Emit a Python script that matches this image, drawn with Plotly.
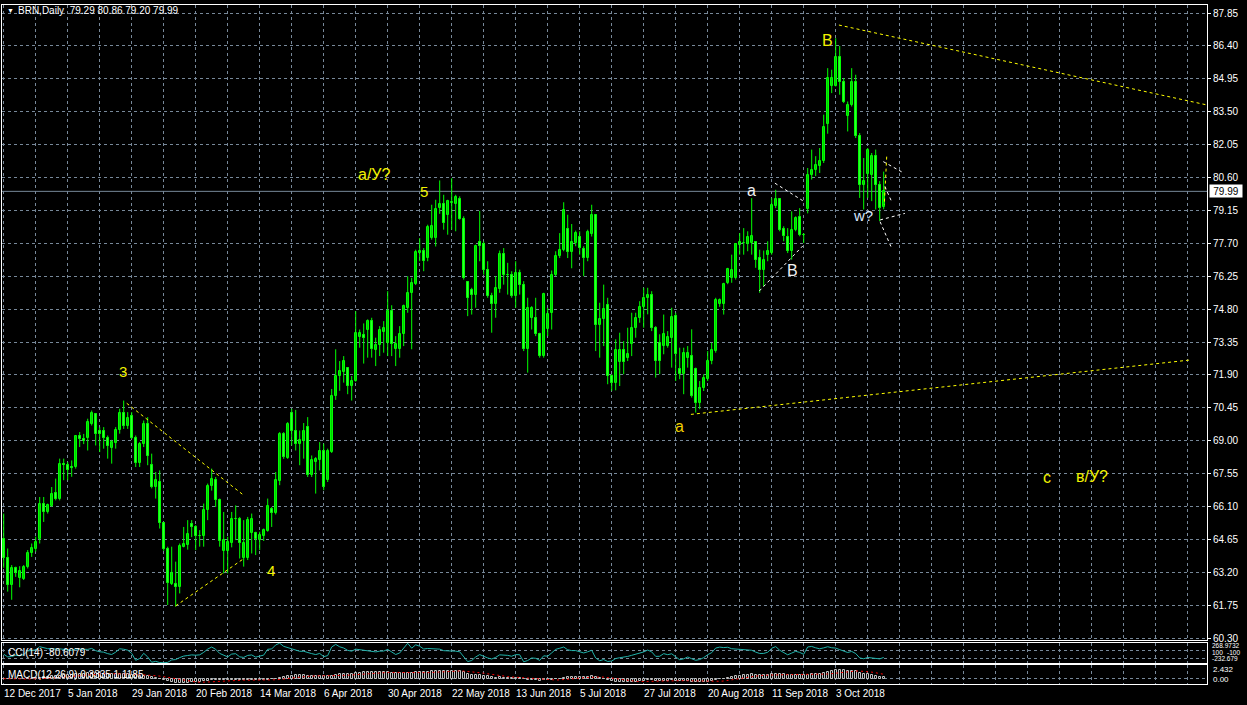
import numpy as np
import pandas as pd
import plotly.graph_objects as go

# ---------------- data (BRN, Daily) ----------------
opens = [64.69, 63.81, 62.64, 63.37, 62.93, 62.90, 63.42, 64.03, 64.21, 64.69,
         66.23, 65.86, 66.11, 66.71, 66.45, 67.99, 67.95, 67.84, 67.84, 69.19,
         69.08, 69.12, 69.75, 70.19, 69.41, 69.41, 69.13, 68.68, 68.90, 69.48,
         70.23, 69.64, 70.11, 69.13, 68.02, 68.87, 69.72, 67.95, 66.96, 67.20,
         65.38, 64.21, 62.69, 62.69, 62.54, 64.33, 64.40, 65.35, 65.20, 64.82,
         64.80, 65.94, 67.00, 67.28, 66.38, 64.15, 64.15, 64.50, 65.53, 65.53,
         63.81, 63.84, 64.94, 64.94, 64.64, 64.80, 65.03, 65.97, 65.82, 67.22,
         69.30, 68.24, 70.23, 69.41, 68.87, 68.98, 69.60, 67.48, 68.06, 68.13,
         68.53, 67.26, 68.50, 70.97, 71.85, 72.04, 72.19, 71.41, 71.63, 73.58,
         73.65, 73.86, 74.27, 73.00, 73.20, 73.80, 73.32, 74.71, 73.03, 73.03,
         73.69, 74.86, 75.49, 75.91, 77.27, 77.38, 77.05, 77.93, 77.93, 79.25,
         79.44, 78.96, 79.47, 79.43, 79.66, 78.78, 75.99, 75.66, 75.44, 77.74,
         77.68, 76.54, 75.37, 75.03, 75.67, 77.25, 76.32, 76.32, 75.37, 76.40,
         75.88, 73.03, 74.42, 74.42, 73.72, 72.73, 73.94, 74.64, 76.32, 77.16,
         77.42, 78.35, 77.32, 77.71, 78.00, 77.46, 77.05, 78.11, 78.93, 74.09,
         74.35, 75.00, 71.85, 71.56, 72.48, 72.98, 72.66, 73.25, 73.98, 74.42,
         74.89, 75.30, 75.44, 73.98, 73.32, 73.17, 73.17, 73.54, 74.49, 72.15,
         71.93, 72.66, 72.73, 72.15, 70.68, 71.34, 71.71, 72.51, 72.95, 75.03,
         75.03, 75.96, 76.18, 76.18, 77.64, 77.71, 77.67, 77.71, 77.76, 77.05,
         76.54, 77.20, 77.27, 79.33, 79.66, 78.34, 77.96, 77.35, 78.30, 78.84,
         78.08, 79.22, 80.69, 80.92, 81.10, 81.32, 82.97, 84.64, 84.64, 85.93,
         84.79, 83.32, 83.81, 84.79, 82.44, 80.29, 80.77, 80.73, 81.57, 80.29,
         79.29]
highs = [65.79, 64.25, 63.52, 63.45, 63.47, 63.52, 64.18, 64.47, 64.77, 66.52,
         66.52, 66.23, 66.96, 67.33, 68.21, 68.21, 68.06, 68.13, 69.23, 69.38,
         69.30, 69.97, 70.33, 70.19, 69.60, 69.60, 69.23, 69.04, 69.60, 70.41,
         70.77, 70.26, 70.26, 69.23, 68.94, 69.89, 70.04, 68.43, 67.62, 67.69,
         65.42, 64.33, 64.33, 63.67, 64.47, 65.20, 65.50, 65.50, 65.28, 65.06,
         66.23, 67.11, 67.77, 67.40, 66.45, 65.86, 64.77, 65.86, 66.15, 65.64,
         65.50, 65.64, 65.79, 64.99, 64.99, 65.13, 66.45, 66.08, 67.62, 69.38,
         69.38, 69.82, 70.41, 70.36, 69.45, 69.78, 70.04, 68.35, 68.28, 68.94,
         68.87, 68.65, 71.28, 73.03, 72.51, 72.73, 72.22, 71.85, 74.71, 73.90,
         74.17, 74.35, 74.42, 73.54, 74.05, 74.27, 75.59, 74.97, 73.61, 74.05,
         75.00, 76.25, 76.18, 77.42, 77.93, 77.49, 78.52, 79.40, 79.62, 80.47,
         79.84, 79.62, 80.57, 79.84, 79.77, 78.89, 76.03, 75.74, 77.64, 79.13,
         77.78, 76.91, 75.52, 76.25, 77.38, 77.49, 76.84, 76.47, 76.91, 76.54,
         76.03, 75.30, 74.93, 75.30, 73.76, 75.52, 74.86, 76.50, 77.35, 78.15,
         79.51, 78.96, 78.55, 78.26, 78.23, 77.57, 78.30, 79.40, 78.96, 75.08,
         75.88, 75.30, 71.93, 73.47, 73.76, 73.39, 73.98, 74.64, 74.64, 75.15,
         75.74, 75.74, 75.59, 74.05, 73.69, 74.56, 73.83, 74.86, 74.64, 73.10,
         73.10, 73.17, 73.91, 72.22, 71.63, 71.93, 72.95, 73.32, 75.30, 75.27,
         75.96, 76.62, 77.20, 77.71, 78.15, 78.37, 78.23, 79.69, 77.79, 77.42,
         77.38, 77.79, 79.69, 80.06, 79.69, 78.45, 78.37, 79.11, 78.89, 79.25,
         78.15, 81.02, 81.83, 81.54, 81.90, 83.37, 85.42, 85.35, 86.74, 86.40,
         84.98, 83.95, 85.42, 85.13, 82.56, 81.46, 81.90, 81.68, 81.83, 80.44,
         80.86]
lows = [63.40, 62.35, 61.99, 63.00, 62.54, 62.86, 63.37, 63.88, 64.11, 64.47,
        65.42, 65.79, 66.08, 66.37, 66.37, 67.26, 67.26, 67.41, 67.77, 68.72,
        68.85, 68.57, 69.67, 68.79, 68.50, 68.65, 68.21, 67.99, 68.65, 69.31,
        69.52, 69.52, 69.08, 67.84, 67.84, 68.72, 67.92, 66.90, 66.45, 65.13,
        64.15, 61.76, 62.64, 61.69, 62.27, 64.30, 64.20, 64.75, 64.18, 64.33,
        64.33, 65.50, 66.80, 66.08, 64.33, 63.15, 63.15, 64.30, 64.62, 63.81,
        63.45, 63.74, 64.03, 63.96, 64.18, 64.58, 64.99, 65.20, 65.75, 67.04,
        68.20, 68.20, 68.79, 68.57, 67.92, 68.21, 67.40, 67.40, 66.67, 67.69,
        66.82, 67.18, 68.46, 70.80, 71.20, 71.56, 71.05, 70.77, 71.60, 73.10,
        72.40, 72.66, 72.66, 72.29, 72.73, 72.88, 72.73, 72.73, 72.29, 72.66,
        73.17, 74.64, 73.03, 75.86, 76.91, 76.47, 76.91, 77.86, 77.56, 79.00,
        78.30, 78.08, 78.30, 78.23, 78.74, 76.10, 74.49, 74.56, 74.86, 76.91,
        76.32, 75.30, 73.76, 74.42, 75.52, 75.88, 75.44, 75.30, 74.86, 75.44,
        72.95, 72.00, 73.90, 73.61, 72.66, 72.66, 73.61, 73.90, 76.25, 77.05,
        77.35, 77.05, 76.60, 77.57, 77.20, 76.25, 76.91, 78.00, 72.95, 72.66,
        73.17, 71.49, 71.20, 71.22, 71.41, 71.93, 72.51, 72.73, 73.54, 74.20,
        73.98, 74.57, 73.83, 71.78, 71.93, 72.81, 73.10, 72.22, 71.63, 71.71,
        71.05, 72.22, 70.90, 70.24, 70.39, 71.19, 71.63, 72.37, 72.88, 74.90,
        74.56, 75.90, 75.96, 76.10, 77.20, 77.20, 77.35, 77.20, 76.62, 75.52,
        75.81, 76.91, 77.20, 79.25, 78.23, 77.79, 77.27, 76.98, 78.23, 78.01,
        77.71, 79.02, 80.51, 80.66, 80.80, 81.24, 82.53, 84.32, 84.61, 84.25,
        83.88, 82.63, 83.73, 82.34, 79.70, 79.19, 79.70, 79.56, 79.19, 78.68,
        79.20]
closes = [63.81, 62.64, 63.37, 63.18, 63.27, 63.42, 64.06, 64.28, 64.52, 66.23,
          65.86, 66.15, 66.63, 66.42, 67.99, 67.92, 67.72, 67.79, 69.19, 69.07,
          69.00, 69.81, 70.23, 69.31, 69.31, 69.13, 68.77, 68.94, 69.48, 70.23,
          69.64, 70.01, 69.13, 68.02, 68.87, 69.72, 68.31, 66.96, 67.26, 65.38,
          64.21, 62.72, 63.18, 62.54, 64.36, 64.47, 64.88, 65.20, 64.80, 64.78,
          65.94, 67.00, 67.33, 66.38, 64.58, 64.62, 64.55, 65.53, 65.55, 64.50,
          64.50, 65.50, 65.53, 64.69, 64.83, 65.06, 66.11, 65.82, 67.26, 69.30,
          68.28, 69.74, 69.41, 68.87, 69.01, 69.41, 67.48, 68.13, 68.21, 68.53,
          66.96, 68.53, 70.99, 71.85, 72.07, 72.51, 71.41, 71.63, 73.76, 73.76,
          73.54, 74.27, 73.03, 73.22, 73.86, 73.98, 74.71, 73.28, 73.28, 73.72,
          74.93, 75.49, 75.93, 77.32, 77.38, 76.91, 78.40, 78.45, 79.22, 79.44,
          78.59, 79.55, 79.50, 79.72, 78.78, 76.18, 75.27, 75.44, 77.60, 77.60,
          76.54, 75.37, 75.03, 75.74, 77.25, 76.32, 76.30, 75.37, 76.40, 75.88,
          73.03, 74.86, 74.86, 73.72, 72.73, 75.47, 74.60, 76.32, 77.16, 77.42,
          79.18, 77.32, 77.74, 78.15, 77.49, 77.05, 78.20, 78.93, 74.09, 74.35,
          74.79, 71.85, 71.56, 72.98, 72.98, 72.48, 72.84, 73.98, 74.42, 74.89,
          75.30, 75.44, 73.98, 72.51, 72.51, 73.69, 73.58, 74.45, 72.81, 71.93,
          72.88, 72.88, 70.97, 70.68, 71.34, 71.78, 72.51, 72.98, 75.22, 75.18,
          75.91, 76.59, 76.54, 77.67, 77.76, 77.73, 77.96, 78.01, 76.98, 76.54,
          76.98, 77.35, 79.40, 79.66, 78.30, 78.01, 77.35, 78.30, 78.81, 78.05,
          78.05, 80.73, 80.92, 81.13, 81.32, 82.81, 84.98, 84.98, 85.93, 84.83,
          83.95, 83.81, 84.79, 82.44, 80.29, 80.44, 81.83, 81.57, 80.29, 79.26,
          79.99]

# date labels: bar index of each label and its text
date_tick_bars = [0, 16, 32, 48, 64, 80, 96, 112, 128, 144, 160, 176, 192, 208]
date_tick_text = ["12 Dec 2017", "5 Jan 2018", "29 Jan 2018", "20 Feb 2018",
                  "14 Mar 2018", "6 Apr 2018", "30 Apr 2018", "22 May 2018",
                  "13 Jun 2018", "5 Jul 2018", "27 Jul 2018", "20 Aug 2018",
                  "11 Sep 2018", "3 Oct 2018"]
price_ticks = [60.30, 61.75, 63.20, 64.65, 66.10, 67.55, 69.00, 70.45, 71.90,
               73.35, 74.80, 76.25, 77.70, 79.15, 80.60, 82.05, 83.50, 84.95,
               86.40, 87.85]
last_price = 79.99
title_text = "BRN,Daily  79.29 80.86 79.20 79.99"
cci_text = "CCI(14) -80.6079"
macd_text = "MACD(12,26,9) 0.3335 1.1185"
cci_scale_labels = ["268.9732", "100", "-100", "-232.679"]
macd_scale_labels = ["2.432", "0.00"]

# wave labels: (bar index, price, text, colour, size)
wave_labels = [
    (92.8, 80.73, "a/У?", "#f2f200", 16),
    (105.1, 79.98, "5", "#f2f200", 15),
    (29.9, 72.05, "3", "#f2f200", 15),
    (66.7, 63.27, "4", "#f2f200", 15),
    (168.95, 69.62, "a", "#f2d000", 16),
    (186.9, 80.03, "a", "#f0f0f0", 16),
    (197.1, 76.50, "В", "#f0f0f0", 16),
    (206.0, 86.62, "B", "#f2f200", 16),
    (214.8, 78.92, "w?", "#d8e8ff", 15),
    (260.8, 67.37, "c", "#f2f200", 16),
    (271.95, 67.44, "в/У?", "#f2f200", 16),
]
# trend lines: (bar0, price0, bar1, price1, colour)
trend_lines = [
    (30.75, 70.65, 59.9, 66.61, "#ffff00"),
    (43.0, 61.72, 59.9, 63.79, "#ffff00"),
    (171.8, 70.16, 296.75, 72.56, "#ffff00"),
    (208.8, 87.32, 300.75, 83.80, "#ffff00"),
    (220.75, 81.52, 220.15, 79.39, "#ffff00"),
    (192.8, 80.35, 199.75, 79.58, "#ffffff"),
    (188.9, 75.60, 199.75, 77.58, "#ffffff"),
    (219.9, 81.30, 224.9, 80.81, "#ffffff"),
    (220.3, 80.20, 222.0, 79.53, "#ffffff"),
    (219.1, 78.73, 225.3, 79.02, "#ffffff"),
    (219.1, 78.65, 222.0, 77.48, "#ffffff"),
]

# ---------------- indicators from the price arrays ----------------
o = pd.Series(opens); h = pd.Series(highs); l = pd.Series(lows); c = pd.Series(closes)
tp = (h + l + c) / 3
sma = tp.rolling(14, min_periods=1).mean()
md = tp.rolling(14, min_periods=1).apply(lambda x: np.mean(np.abs(x - x.mean())), raw=True)
cci = ((tp - sma) / (0.015 * md.replace(0, np.nan))).fillna(0)
ema12 = c.ewm(span=12, adjust=False).mean()
ema26 = c.ewm(span=26, adjust=False).mean()
macd = ema12 - ema26
signal = macd.rolling(9, min_periods=1).mean()

# ---------------- layout helpers (pixel geometry) ----------------
W, H = 1247, 705
ML, MR, MT, MB = 2, 40, 5, 21
PH = H - MT - MB                 # plot height in px
def py(ypx):                      # pixel y -> paper fraction
    return (H - MB - ypx) / PH
def px(xpx):
    return (xpx - ML) / (W - ML - MR)

LIME = "#00ff00"
GRID = "#778899"
FONT = "Liberation Sans"

n = len(closes)
idx = list(range(n))
x_range = [-0.425, 300.825]
y_range = [60.217, 88.203]
grid_bars = list(range(0, 300, 8))

fig = go.Figure()

# wicks
wx, wy = [], []
for i in idx:
    wx += [i, i, None]
    wy += [lows[i], highs[i], None]
fig.add_trace(go.Scatter(x=wx, y=wy, mode="lines", line=dict(color=LIME, width=1),
                         hoverinfo="skip", showlegend=False))

bull = [i for i in idx if closes[i] >= opens[i]]
bear = [i for i in idx if closes[i] < opens[i]]
fig.add_trace(go.Bar(x=bull, base=[opens[i] for i in bull],
                     y=[max(closes[i] - opens[i], 0.01) for i in bull],
                     width=0.5, marker=dict(color="#000000", line=dict(color=LIME, width=1)),
                     showlegend=False))
fig.add_trace(go.Bar(x=bear, base=[closes[i] for i in bear],
                     y=[opens[i] - closes[i] for i in bear],
                     width=0.5, marker=dict(color="#ffffff", line=dict(color=LIME, width=1)),
                     showlegend=False))

# CCI
fig.add_trace(go.Scatter(x=idx, y=cci, mode="lines", line=dict(color="#20b2aa", width=1),
                         xaxis="x2", yaxis="y2", showlegend=False))
# MACD
fig.add_trace(go.Bar(x=idx, y=macd, width=0.5, marker=dict(color="#000000",
                     line=dict(color="#c0c0c0", width=1)),
                     xaxis="x3", yaxis="y3", showlegend=False))
fig.add_trace(go.Scatter(x=idx, y=signal, mode="lines",
                         line=dict(color="#ff0000", width=1, dash="2px,3px"),
                         xaxis="x3", yaxis="y3", showlegend=False))

shapes = []
# current price line
shapes.append(dict(type="line", xref="paper", yref="y", x0=0, x1=1, y0=last_price, y1=last_price,
                   line=dict(color=GRID, width=1), layer="below"))
for (b0, p0, b1, p1, col) in trend_lines:
    shapes.append(dict(type="line", xref="x", yref="y", x0=b0, y0=p0, x1=b1, y1=p1,
                       line=dict(color=col, width=1, dash="3px,3px")))

ann = []
ann.append(dict(xref="paper", yref="paper", x=px(5), y=py(11), text="▼", showarrow=False,
                xanchor="left", yanchor="middle", font=dict(family=FONT, size=7, color="#ffffff")))
ann.append(dict(xref="paper", yref="paper", x=px(16), y=py(11), text=title_text, showarrow=False,
                xanchor="left", yanchor="middle", font=dict(family=FONT, size=10, color="#ffffff")))
for (b, p, t, col, sz) in wave_labels:
    ann.append(dict(xref="x", yref="y", x=b, y=p, text=t, showarrow=False,
                    xanchor="center", yanchor="middle", font=dict(family=FONT, size=sz, color=col)))
for b, t in zip(date_tick_bars, date_tick_text):
    ann.append(dict(xref="x", yref="paper", x=b, y=py(693), text=t, showarrow=False,
                    xanchor="left", yanchor="middle", xshift=-2,
                    font=dict(family=FONT, size=10, color="#ffffff")))
ann.append(dict(xref="paper", yref="y", x=1.0015, y=last_price, text="79.99", showarrow=False,
                xanchor="left", yanchor="middle", bgcolor="#ffffff", width=30, height=10,
                font=dict(family=FONT, size=10, color="#000000")))
ann.append(dict(xref="paper", yref="paper", x=px(6), y=py(652), text=cci_text,
                showarrow=False, xanchor="left", yanchor="middle",
                font=dict(family=FONT, size=10, color="#ffffff")))
ann.append(dict(xref="paper", yref="paper", x=px(6), y=py(674), text=macd_text,
                showarrow=False, xanchor="left", yanchor="middle",
                font=dict(family=FONT, size=10, color="#ffffff")))
# small scale labels of the two indicator panels (crowded into 20 px in the original)
cci_label_pos = [(1211, 645.5), (1211, 652.0), (1226, 652.0), (1211, 658.5)]
for t, (xp, ypx) in zip(cci_scale_labels, cci_label_pos):
    ann.append(dict(xref="paper", yref="paper", x=px(xp), y=py(ypx), text=t, showarrow=False,
                    xanchor="left", yanchor="middle", borderpad=0,
                    font=dict(family=FONT, size=6.5, color="#ffffff")))
for t, ypx in zip(macd_scale_labels, [669, 679]):
    ann.append(dict(xref="paper", yref="paper", x=px(1212), y=py(ypx), text=t, showarrow=False,
                    xanchor="left", yanchor="middle", borderpad=0,
                    font=dict(family=FONT, size=8, color="#ffffff")))

axis_common = dict(showgrid=True, gridcolor=GRID, griddash="3px,3px", gridwidth=1,
                   zeroline=False, showline=True, linecolor="#ffffff", linewidth=1, mirror=True)

macd_top = float(max(macd.max(), signal.max())) * 1.6
macd_bot = float(min(macd.min(), signal.min())) * 1.3

fig.update_layout(
    width=W, height=H, margin=dict(l=ML, r=MR, t=MT, b=MB, autoexpand=False),
    paper_bgcolor="#000000", plot_bgcolor="#000000",
    barmode="overlay", bargap=0, showlegend=False,
    shapes=shapes, annotations=ann,
    xaxis=dict(domain=[0, 1], range=x_range, tickvals=grid_bars, showticklabels=False,
               anchor="y", **axis_common),
    yaxis=dict(domain=[py(640), 1], range=y_range, side="right", tickvals=price_ticks,
               ticktext=[f"{v:.2f}" for v in price_ticks], ticks="outside", ticklen=3,
               tickcolor="#ffffff", tickfont=dict(family=FONT, size=10, color="#ffffff"),
               anchor="x", automargin=False, **axis_common),
    xaxis2=dict(domain=[0, 1], range=x_range, tickvals=grid_bars, showticklabels=False,
                anchor="y2", matches="x", **axis_common),
    yaxis2=dict(domain=[py(663), py(643)], side="right", tickvals=[-100, 100],
                showticklabels=False, anchor="x2",
                range=[float(cci.min()) - 5, float(cci.max()) + 5], **axis_common),
    xaxis3=dict(domain=[0, 1], range=x_range, tickvals=grid_bars, showticklabels=False,
                anchor="y3", matches="x", **axis_common),
    yaxis3=dict(domain=[0, py(665)], side="right", tickvals=[0],
                showticklabels=False, anchor="x3",
                range=[macd_bot, macd_top], **axis_common),
)

fig.write_html("out.html", config={"displayModeBar": False},
               post_script="document.body.style.margin='0';document.body.style.overflow='hidden';")
